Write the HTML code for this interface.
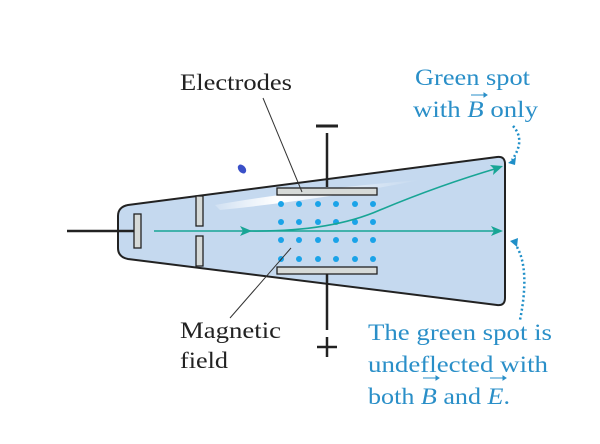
<!DOCTYPE html>
<html><head><style>
body{margin:0;background:#fff;width:600px;height:444px;overflow:hidden}
svg{display:block}
</style></head><body>
<svg width="600" height="444" viewBox="0 0 600 444" xmlns="http://www.w3.org/2000/svg">
<defs>
<linearGradient id="sh" x1="0" y1="0" x2="1" y2="0">
<stop offset="0" stop-color="#fff" stop-opacity="0.2"/>
<stop offset="0.3" stop-color="#fff" stop-opacity="1"/>
<stop offset="1" stop-color="#fff" stop-opacity="0"/>
</linearGradient>
</defs>
<path d="M128,205 L497,157 Q505,156 505,164 L505,298 Q505,306 497,305 L128,259 Q118,257 118,248 L118,216 Q118,207 128,205 Z" fill="#c5d9ef" stroke="#222" stroke-width="2"/>
<path d="M215,205 Q300,190 420,180 Q320,200 220,210 Z" fill="url(#sh)"/>
<line x1="67" y1="231" x2="134" y2="231" stroke="#222" stroke-width="2.5"/>
<line x1="327" y1="133" x2="327" y2="187" stroke="#222" stroke-width="2.5"/>
<line x1="327" y1="274" x2="327" y2="330" stroke="#222" stroke-width="2.5"/>
<line x1="316" y1="126" x2="338" y2="126" stroke="#222" stroke-width="3"/>
<line x1="317" y1="347" x2="337" y2="347" stroke="#222" stroke-width="2.5"/>
<line x1="327" y1="337" x2="327" y2="357" stroke="#222" stroke-width="2.5"/>
<rect x="134" y="214" width="7" height="34" fill="#d6dad8" stroke="#222" stroke-width="1.3"/>
<rect x="196" y="196" width="7" height="30" fill="#d6dad8" stroke="#222" stroke-width="1.3"/>
<rect x="196" y="236" width="7" height="30" fill="#d6dad8" stroke="#222" stroke-width="1.3"/>
<rect x="277" y="188" width="100" height="7" fill="#d6dad8" stroke="#222" stroke-width="1.3"/>
<rect x="277" y="267" width="100" height="7" fill="#d6dad8" stroke="#222" stroke-width="1.3"/>
<g fill="#1aa3e8">
<circle cx="281" cy="204" r="3"/><circle cx="299" cy="204" r="3"/><circle cx="318" cy="204" r="3"/><circle cx="336" cy="204" r="3"/><circle cx="355" cy="204" r="3"/><circle cx="373" cy="204" r="3"/>
<circle cx="281" cy="222" r="3"/><circle cx="299" cy="222" r="3"/><circle cx="318" cy="222" r="3"/><circle cx="336" cy="222" r="3"/><circle cx="355" cy="222" r="3"/><circle cx="373" cy="222" r="3"/>
<circle cx="281" cy="240" r="3"/><circle cx="299" cy="240" r="3"/><circle cx="318" cy="240" r="3"/><circle cx="336" cy="240" r="3"/><circle cx="355" cy="240" r="3"/><circle cx="373" cy="240" r="3"/>
<circle cx="281" cy="259" r="3"/><circle cx="299" cy="259" r="3"/><circle cx="318" cy="259" r="3"/><circle cx="336" cy="259" r="3"/><circle cx="355" cy="259" r="3"/><circle cx="373" cy="259" r="3"/>
</g>
<g stroke="#18a595" stroke-width="1.6" fill="none">
<line x1="154" y1="231" x2="498" y2="231"/>
<path d="M250,231 Q330,232 380,210 Q440,185 498,168"/>
</g>
<g fill="#18a595">
<path d="M252,231 L240,226 L243,231 L240,236 Z"/>
<path d="M503,231 L491,226 L494,231 L491,236 Z"/>
<path d="M503,166 L490,165 L494,169 L493,175 Z"/>
</g>
<line x1="263" y1="98" x2="302" y2="192" stroke="#333" stroke-width="1"/>
<line x1="230" y1="318" x2="291" y2="248" stroke="#333" stroke-width="1"/>
<ellipse cx="242" cy="169" rx="3.5" ry="5" transform="rotate(-40 242 169)" fill="#3a50c8"/>
<g stroke="#1f8fc8" stroke-width="2.5" stroke-dasharray="2 2.5" fill="none">
<path d="M513,126 Q526,140 512,160"/>
<path d="M517,247 Q530,270 520,320"/>
</g>
<path d="M508,163 L516,157 L515,165 Z" fill="#1f8fc8"/>
<path d="M510,241 L518,238 L517,247 Z" fill="#1f8fc8"/>
<g font-family="Liberation Serif, serif" font-size="23" fill="#222">
<text x="180" y="90" textLength="112" lengthAdjust="spacingAndGlyphs">Electrodes</text>
<text x="180" y="338" textLength="101" lengthAdjust="spacingAndGlyphs">Magnetic</text>
<text x="180" y="368" textLength="48" lengthAdjust="spacingAndGlyphs">field</text>
</g>
<g font-family="Liberation Serif, serif" font-size="23" fill="#2a8fc8">
<text x="415" y="85" textLength="115" lengthAdjust="spacingAndGlyphs">Green spot</text>
<text x="413" y="117" textLength="125" lengthAdjust="spacingAndGlyphs">with <tspan font-style="italic">B</tspan> only</text>
<text x="368" y="340" textLength="184" lengthAdjust="spacingAndGlyphs">The green spot is</text>
<text x="368" y="372" textLength="180" lengthAdjust="spacingAndGlyphs">undeflected with</text>
<text x="368" y="404" textLength="142" lengthAdjust="spacingAndGlyphs">both <tspan font-style="italic">B</tspan> and <tspan font-style="italic">E</tspan>.</text>
</g>
<g stroke="#2a8fc8" stroke-width="1" fill="#2a8fc8">
<line x1="471" y1="95" x2="484" y2="95"/><path d="M484,93 L487,95 L484,97 Z"/>
<line x1="423" y1="378" x2="436" y2="378"/><path d="M436,376 L439,378 L436,380 Z"/>
<line x1="490" y1="378" x2="503" y2="378"/><path d="M503,376 L506,378 L503,380 Z"/>
</g>
</svg>
</body></html>
